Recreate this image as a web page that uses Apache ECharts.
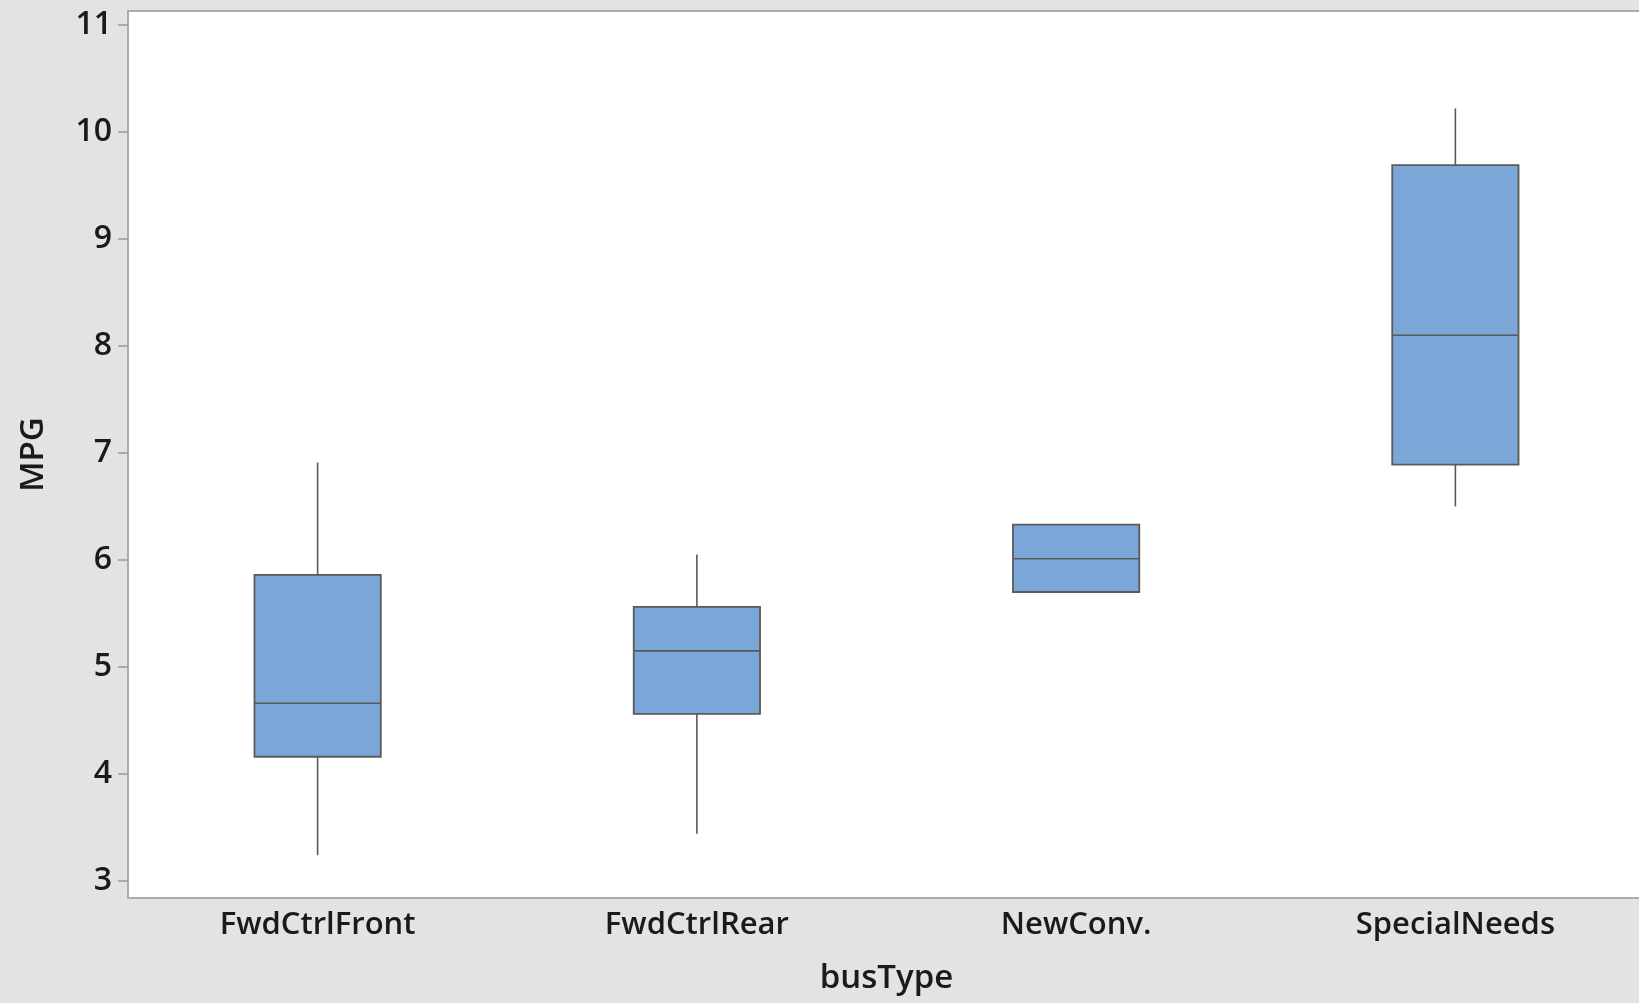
<!DOCTYPE html>
<html>
<head>
<meta charset="utf-8">
<title>MPG by busType</title>
<script src="https://cdn.jsdelivr.net/npm/echarts@6/dist/echarts.min.js"></script>
<style>
  html, body { margin: 0; padding: 0; background: #e3e3e3; }
  #chart { width: 1639px; height: 1003px; }
</style>
</head>
<body>
<div id="chart"></div>
<script>
// categories and box stats
const busTypes = ['FwdCtrlFront', 'FwdCtrlRear', 'NewConv.', 'SpecialNeeds'];
const lowWhisker  = [3.24, 3.44, 5.70, 6.50];
const q1          = [4.16, 4.56, 5.70, 6.89];
const median      = [4.66, 5.15, 6.01, 8.10];
const q3          = [5.86, 5.56, 6.33, 9.69];
const highWhisker = [6.91, 6.05, 6.33, 10.22];
const yTicks = [3, 4, 5, 6, 7, 8, 9, 10, 11];

const boxData = busTypes.map((_, i) => [i, lowWhisker[i], q1[i], median[i], q3[i], highWhisker[i]]);

const lineStyle = { stroke: '#5a5a5a', lineWidth: 1.6 };

// box without whisker caps, like the original
function renderBox(params, api) {
  const x = api.value(0);
  const pLow = api.coord([x, api.value(1)]);
  const pQ1 = api.coord([x, api.value(2)]);
  const pMed = api.coord([x, api.value(3)]);
  const pQ3 = api.coord([x, api.value(4)]);
  const pHigh = api.coord([x, api.value(5)]);
  const halfW = api.size([1, 0])[0] * 0.333 / 2;
  const cx = pMed[0];
  return {
    type: 'group',
    children: [
      { type: 'line', shape: { x1: cx, y1: pHigh[1], x2: cx, y2: pQ3[1] }, style: lineStyle },
      { type: 'line', shape: { x1: cx, y1: pQ1[1], x2: cx, y2: pLow[1] }, style: lineStyle },
      {
        type: 'rect',
        shape: { x: cx - halfW, y: pQ3[1], width: halfW * 2, height: pQ1[1] - pQ3[1] },
        style: { fill: '#7ba6d8', stroke: '#5a5a5a', lineWidth: 1.8 }
      },
      { type: 'line', shape: { x1: cx - halfW, y1: pMed[1], x2: cx + halfW, y2: pMed[1] }, style: lineStyle }
    ]
  };
}

const font = '"Open Sans", "Noto Sans", sans-serif';

const option = {
  backgroundColor: '#e3e3e3',
  animation: false,
  grid: {
    left: 128, top: 11, width: 1517, bottom: 105,
    outerBoundsMode: 'none',
    show: true, backgroundColor: '#ffffff', borderColor: '#ababab', borderWidth: 2
  },
  xAxis: {
    type: 'category',
    data: busTypes,
    boundaryGap: true,
    name: 'busType',
    nameLocation: 'middle',
    nameGap: 64,
    nameTextStyle: { fontFamily: font, fontSize: 33, fontWeight: 600, color: '#1a1a1a' },
    axisLine: { lineStyle: { color: '#ababab', width: 2 } },
    axisTick: { alignWithLabel: true, length: 10, lineStyle: { color: '#9a9a9a', width: 1.5 } },
    axisLabel: { margin: 12, fontFamily: font, fontSize: 31, fontWeight: 600, color: '#1a1a1a' },
    splitLine: { show: false }
  },
  yAxis: {
    type: 'value',
    min: 2.84,
    max: 11.13,
    name: 'MPG',
    nameLocation: 'middle',
    nameGap: 78,
    nameRotate: 90,
    nameTextStyle: { fontFamily: font, fontSize: 33, fontWeight: 600, color: '#1a1a1a' },
    axisLine: { show: true, lineStyle: { color: '#ababab', width: 2 } },
    axisTick: { show: true, length: 10, customValues: yTicks, lineStyle: { color: '#9a9a9a', width: 1.5 } },
    axisLabel: { margin: 16, customValues: yTicks, fontFamily: font, fontSize: 32, fontWeight: 600, color: '#1a1a1a' },
    splitLine: { show: false }
  },
  series: [{
    type: 'custom',
    renderItem: renderBox,
    data: boxData,
    encode: { x: 0, y: [1, 2, 3, 4, 5] }
  }]
};

const chart = echarts.init(document.getElementById('chart'));
chart.setOption(option);
</script>
</body>
</html>
